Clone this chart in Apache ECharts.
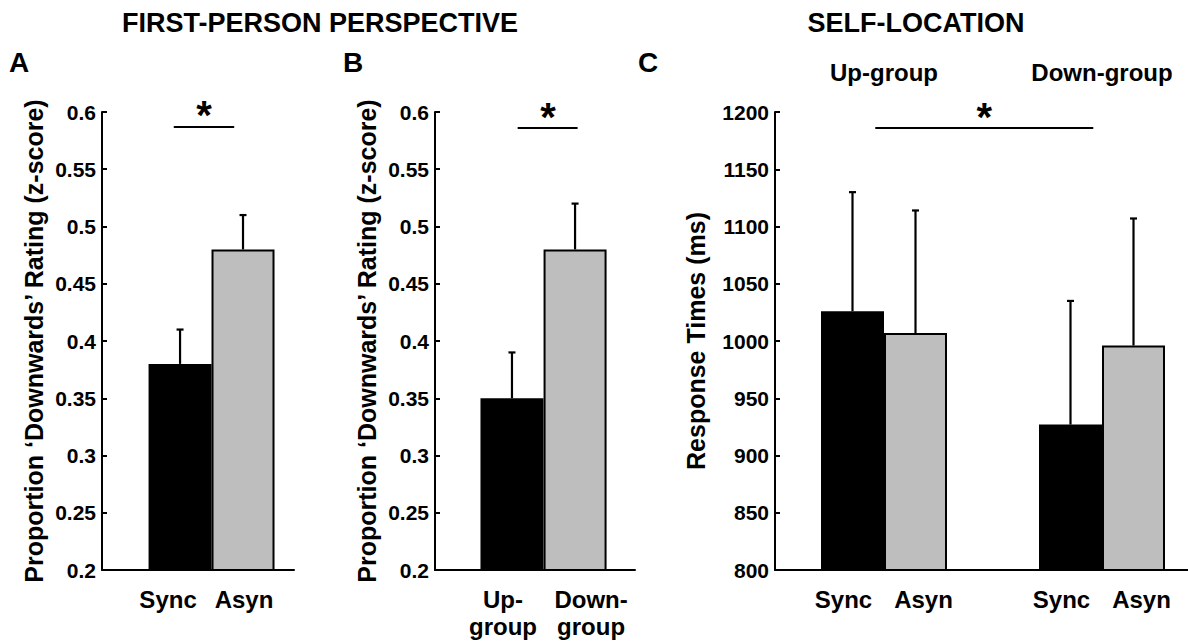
<!DOCTYPE html>
<html><head><meta charset="utf-8">
<script src="https://cdn.jsdelivr.net/npm/echarts@6/dist/echarts.min.js"></script>
<style>html,body{margin:0;padding:0;background:#fff}#c{width:1188px;height:642px}</style>
</head><body><div id="c"></div>
<script>
// ---------- data ----------
// Panel A: first-person perspective by synchrony
const aConditions = ['Sync', 'Asyn'];
const aMeans = [0.38, 0.48];
const aErrTops = [0.41, 0.51];
const aSigSpan = [0.9, 1.86];
const aSigLevel = 0.587;
const aStarX = 1.38;

// Panel B: first-person perspective by group
const bGroups = ['Up-\ngroup', 'Down-\ngroup'];
const bMeans = [0.35, 0.48];
const bErrTops = [0.39, 0.52];
const bSigSpan = [1.09, 2.04];
const bSigLevel = 0.586;
const bStarX = 1.57;

// Panel C: self-location response times
const cGroups = ['Up-group', 'Down-group'];
const cConditions = ['Sync', 'Asyn'];
const cSyncMeans = [1026, 927];
const cSyncErrTops = [1130, 1035];
const cAsynMeans = [1007, 996];
const cAsynErrTops = [1114, 1107];
const cSigSpan = [0.96, 1.96];
const cSigLevel = 1186;
const cStarX = 1.46;

// tick settings
const propTicks = {min: 0.2, max: 0.6, interval: 0.05};
const rtTicks = {min: 800, max: 1200, interval: 50};

// ---------- styling / layout ----------
const FONT = '"Liberation Sans", Arial, Helvetica, sans-serif';
const condColors = ['#000000', '#bebebe'];
const BAR_W = 63;
const gridTop = 112, gridH = 458;
const labelShiftA = [-12, 1];
const labelShiftB = [-9, 16];
const labelShiftC = [-9, 8];

function yAxisCfg(gridIndex, ticks, name, nameGap) {
  return {
    type: 'value', gridIndex, min: ticks.min, max: ticks.max, interval: ticks.interval,
    name, nameLocation: 'middle', nameGap, nameRotate: 90,
    nameTextStyle: {fontFamily: FONT, fontWeight: 'bold', fontSize: 25, color: '#000'},
    axisLine: {show: true, onZero: false, lineStyle: {color: '#000', width: 2}},
    axisTick: {show: true, inside: true, length: 5, lineStyle: {color: '#000', width: 2}},
    axisLabel: {fontFamily: FONT, fontWeight: 'bold', fontSize: 21, color: '#000', margin: 6,
      formatter: v => String(parseFloat(Number(v).toFixed(2)))},
    splitLine: {show: false}
  };
}
function hiddenX(gridIndex, min, max, showLine) {
  return {
    type: 'value', gridIndex, min, max,
    axisLine: {show: showLine, onZero: false, lineStyle: {color: '#000', width: 2}},
    axisTick: {show: false}, axisLabel: {show: false}, splitLine: {show: false}
  };
}
const barLabel = (fmt, dist, lh, dx) => ({
  show: true, position: 'bottom', distance: dist, formatter: fmt, offset: [dx || 0, 0],
  fontFamily: FONT, fontWeight: 'bold', fontSize: 24, color: '#000', lineHeight: lh,
  textBorderWidth: 0
});
const barItem = {borderColor: '#000', borderWidth: 2};

function errorSeries(xAxisIndex, yAxisIndex, data, pxOffset) {
  return {
    type: 'custom', xAxisIndex, yAxisIndex, z: 5, silent: true,
    data,
    renderItem: function (params, api) {
      const p0 = api.coord([api.value(0), api.value(1)]);
      const p1 = api.coord([api.value(0), api.value(2)]);
      const x = p0[0] + pxOffset;
      const st = {stroke: '#000', lineWidth: 2.2};
      return {type: 'group', children: [
        {type: 'line', shape: {x1: x, y1: p0[1], x2: x, y2: p1[1]}, style: st},
        {type: 'line', shape: {x1: x - 3.5, y1: p1[1], x2: x + 3.5, y2: p1[1]}, style: st}
      ]};
    }
  };
}
function sigSeries(xAxisIndex, yAxisIndex, span, level, starX) {
  return [{
    type: 'line', xAxisIndex, yAxisIndex, symbol: 'none', silent: true, clip: false,
    data: [[span[0], level], [span[1], level]],
    lineStyle: {color: '#000', width: 2}
  }, {
    type: 'scatter', xAxisIndex, yAxisIndex, silent: true, clip: false,
    symbol: 'circle', symbolSize: 1, itemStyle: {color: 'rgba(0,0,0,0)'},
    data: [[starX, level]],
    label: {show: true, position: 'top', distance: 0, formatter: '*', offset: [0, 9],
      fontFamily: FONT, fontWeight: 'bold', fontSize: 40, color: '#000000',
      textBorderWidth: 0, textBorderColor: 'transparent', opacity: 1}
  }];
}

const option = {
  backgroundColor: '#ffffff',
  animation: false,
  grid: [
    {left: 102, top: gridTop, width: 192, height: gridH, containLabel: false, outerBoundsMode: 'none'},
    {left: 435, top: gridTop, width: 200, height: gridH, containLabel: false, outerBoundsMode: 'none'},
    {left: 775, top: gridTop, width: 436, height: gridH, containLabel: false, outerBoundsMode: 'none'}
  ],
  xAxis: [
    hiddenX(0, -0.24, 2.81, true),
    hiddenX(1, -0.22, 2.95, true),
    {type: 'category', gridIndex: 2, data: cGroups, position: 'bottom',
      axisLine: {show: true, onZero: false, lineStyle: {color: '#000', width: 2}},
      axisTick: {show: false}, axisLabel: {show: false}, splitLine: {show: false}},
    {type: 'category', gridIndex: 2, data: cGroups, position: 'top',
      axisLine: {show: false}, axisTick: {show: false}, splitLine: {show: false},
      axisLabel: {show: true, margin: 28, fontFamily: FONT, fontWeight: 'bold', fontSize: 24, color: '#000'}},
    Object.assign(hiddenX(2, 0.5, 2.5, false), {show: false})
  ],
  yAxis: [
    yAxisCfg(0, propTicks, 'Proportion \u2018Downwards\u2019 Rating (z-score)', 56),
    yAxisCfg(1, propTicks, 'Proportion \u2018Downwards\u2019 Rating (z-score)', 56),
    yAxisCfg(2, rtTicks, 'Response Times (ms)', 67)
  ],
  graphic: [
    {type: 'text', x: 320, y: 23, style: {text: 'FIRST-PERSON PERSPECTIVE', font: 'bold 27px ' + FONT, fill: '#000', align: 'center', verticalAlign: 'middle'}},
    {type: 'text', x: 916, y: 23, style: {text: 'SELF-LOCATION', font: 'bold 27px ' + FONT, fill: '#000', align: 'center', verticalAlign: 'middle'}},
    {type: 'text', x: 19, y: 62, style: {text: 'A', font: 'bold 28px ' + FONT, fill: '#000', align: 'center', verticalAlign: 'middle'}},
    {type: 'text', x: 353, y: 62, style: {text: 'B', font: 'bold 28px ' + FONT, fill: '#000', align: 'center', verticalAlign: 'middle'}},
    {type: 'text', x: 648, y: 62, style: {text: 'C', font: 'bold 28px ' + FONT, fill: '#000', align: 'center', verticalAlign: 'middle'}}
  ],
  series: [
    // Panel A
    {type: 'bar', xAxisIndex: 0, yAxisIndex: 0, barWidth: BAR_W, itemStyle: barItem,
      data: aConditions.map((c, i) => ({name: c, value: [i + 1, aMeans[i]],
        itemStyle: {color: condColors[i]}, label: barLabel(p => p.name, 14, 28, labelShiftA[i])}))},
    errorSeries(0, 0, aMeans.map((m, i) => [i + 1, m, aErrTops[i]]), 0),
    ...sigSeries(0, 0, aSigSpan, aSigLevel, aStarX),
    // Panel B
    {type: 'bar', xAxisIndex: 1, yAxisIndex: 1, barWidth: BAR_W, itemStyle: barItem,
      data: bGroups.map((g, i) => ({name: g, value: [i + 1, bMeans[i]],
        itemStyle: {color: condColors[i]}, label: barLabel(p => p.name, 15, 27, labelShiftB[i])}))},
    errorSeries(1, 1, bMeans.map((m, i) => [i + 1, m, bErrTops[i]]), 0),
    ...sigSeries(1, 1, bSigSpan, bSigLevel, bStarX),
    // Panel C
    {type: 'bar', name: cConditions[0], xAxisIndex: 2, yAxisIndex: 2, barWidth: BAR_W, barGap: '0%',
      itemStyle: Object.assign({color: condColors[0]}, barItem), label: barLabel('{a}', 14, 28, labelShiftC[0]), data: cSyncMeans},
    {type: 'bar', name: cConditions[1], xAxisIndex: 2, yAxisIndex: 2, barWidth: BAR_W, barGap: '0%',
      itemStyle: Object.assign({color: condColors[1]}, barItem), label: barLabel('{a}', 14, 28, labelShiftC[1]), data: cAsynMeans},
    errorSeries(2, 2, cSyncMeans.map((m, i) => [i, m, cSyncErrTops[i]]), -BAR_W / 2),
    errorSeries(2, 2, cAsynMeans.map((m, i) => [i, m, cAsynErrTops[i]]), BAR_W / 2),
    ...sigSeries(4, 2, cSigSpan, cSigLevel, cStarX)
  ]
};

const chart = echarts.init(document.getElementById('c'), null, {renderer: 'svg', width: 1188, height: 642});
chart.setOption(option);
</script>
</body></html>
